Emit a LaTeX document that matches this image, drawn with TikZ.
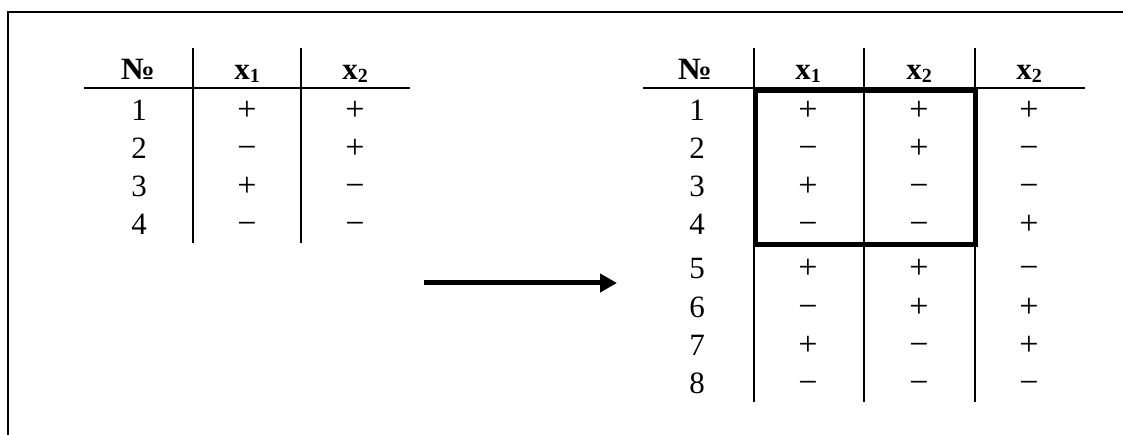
\documentclass[tikz,border=0pt]{standalone}
\usepackage{fontspec}
\usepackage{graphicx}
\setmainfont{Liberation Serif}
\usetikzlibrary{arrows.meta}
\newcommand{\pl}{\scalebox{1.1}{+}}
\newcommand{\mi}{\scalebox{1.1}{−}}
\newcommand{\lowidx}[1]{\raisebox{-3pt}{\fontsize{20}{20}\selectfont #1}}
\begin{document}
\begin{tikzpicture}[x=1pt,y=-1pt,
  cell/.style={anchor=base,inner sep=0pt,font=\fontsize{31}{35}\selectfont},
  head/.style={anchor=base,inner sep=0pt,font=\fontsize{31}{35}\selectfont\bfseries},
  rule/.style={line width=2pt},
  frame/.style={line width=2pt},
  boxline/.style={line width=5pt},
  bigarrow/.style={line width=5pt,-{Triangle[length=17pt,width=18pt]}}]
\useasboundingbox (0,0) rectangle (1123,435);
% frame
\draw[frame] (8,435) -- (8,12) -- (1123,12);
% ---------- left table ----------
\node[head] (Lh0) at (138,80) {\scalebox{1.1}[1]{№}};
\node[head] (Lh1) at (247,80) {x\lowidx{1}};
\node[head] (Lh2) at (355,80) {x\lowidx{2}};
\draw[rule] (84,88) -- (410,88);
\draw[rule] (193,48) -- (193,243);
\draw[rule] (301,48) -- (301,243);
\foreach \n/\y/\a/\b in {1/121/\pl/\pl,2/159/\mi/\pl,3/197/\pl/\mi,4/235/\mi/\mi}{
  \node[cell] (L\n-0) at (139,\y) {\n};
  \node[cell] (L\n-1) at (247,\y) {\a};
  \node[cell] (L\n-2) at (355,\y) {\b};
}
% ---------- arrow ----------
\coordinate (arrS) at (424,283);
\coordinate (arrE) at (617,283);
\draw[bigarrow] (arrS) -- (arrE);
% ---------- right table ----------
\node[head] (Rh0) at (695,80) {\scalebox{1.1}[1]{№}};
\node[head] (Rh1) at (808,80) {x\lowidx{1}};
\node[head] (Rh2) at (919,80) {x\lowidx{2}};
\node[head] (Rh3) at (1029,80) {x\lowidx{2}};
\draw[rule] (643,88) -- (1085,88);
\draw[rule] (754,48) -- (754,402);
\draw[rule] (864,48) -- (864,402);
\draw[rule] (975,48) -- (975,402);
\foreach \n/\y/\a/\b/\c in {1/121/\pl/\pl/\pl,2/159/\mi/\pl/\mi,3/197/\pl/\mi/\mi,4/235/\mi/\mi/\pl,
                            5/279/\pl/\pl/\mi,6/317/\mi/\pl/\pl,7/355/\pl/\mi/\pl,8/393/\mi/\mi/\mi}{
  \node[cell] (R\n-0) at (697,\y) {\n};
  \node[cell] (R\n-1) at (808,\y) {\a};
  \node[cell] (R\n-2) at (919,\y) {\b};
  \node[cell] (R\n-3) at (1029,\y) {\c};
}
\draw[boxline] (755,91) rectangle (975,245);
\end{tikzpicture}
\end{document}
